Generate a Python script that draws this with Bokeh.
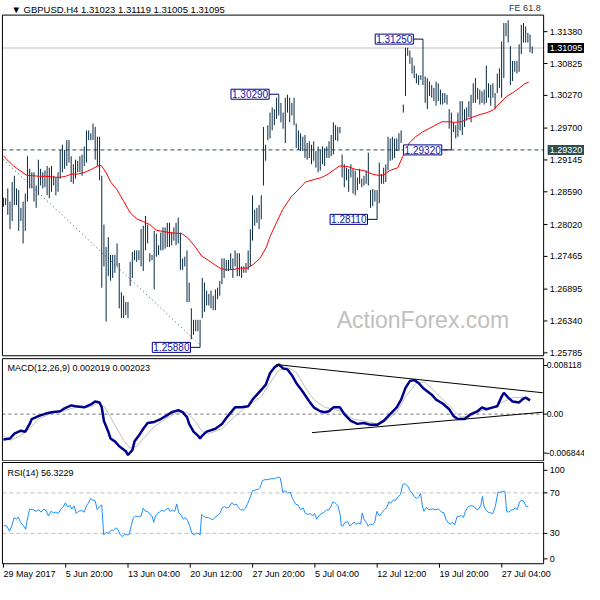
from bokeh.plotting import figure
from bokeh.models import Range1d, Label
from bokeh.layouts import column
from bokeh.embed import file_html
from bokeh.resources import INLINE

FONT = "Liberation Sans"
BAR_COLOR = "#082a44"
LABEL_BLUE = "#1414a0"

# ---------------- data (GBPUSD H4) ----------------
bar_high = [
    1.2849, 1.2848, 1.2865, 1.2842, 1.2876, 1.2887, 1.2865, 1.2862, 1.2831, 1.2842,
    1.2856, 1.2921, 1.2899, 1.2893, 1.2893, 1.2870, 1.2915, 1.2899, 1.2893, 1.2896,
    1.2904, 1.2901, 1.2904, 1.2887, 1.2884, 1.2893, 1.2932, 1.2941, 1.2932, 1.2949,
    1.2949, 1.2921, 1.2907, 1.2915, 1.2913, 1.2921, 1.2924, 1.2938, 1.2966, 1.2966,
    1.2961, 1.2978, 1.2972, 1.2955, 1.2955, 1.2887, 1.2802, 1.2763, 1.2780, 1.2749,
    1.2749, 1.2749, 1.2769, 1.2735, 1.2684, 1.2678, 1.2667, 1.2667, 1.2737, 1.2754,
    1.2757, 1.2757, 1.2757, 1.2794, 1.2800, 1.2817, 1.2802, 1.2752, 1.2749, 1.2791,
    1.2786, 1.2766, 1.2788, 1.2797, 1.2797, 1.2805, 1.2805, 1.2788, 1.2797, 1.2805,
    1.2814, 1.2788, 1.2743, 1.2746, 1.2757, 1.2701, 1.2656, 1.2636, 1.2636, 1.2636,
    1.2636, 1.2709, 1.2701, 1.2687, 1.2681, 1.2687, 1.2678, 1.2689, 1.2692, 1.2704,
    1.2743, 1.2743, 1.2740, 1.2740, 1.2752, 1.2743, 1.2757, 1.2752, 1.2752, 1.2729,
    1.2729, 1.2735, 1.2757, 1.2794, 1.2853, 1.2828, 1.2831, 1.2836, 1.2853, 1.2972,
    1.2941, 1.2975, 1.2997, 1.3006, 1.3003, 1.3023, 1.3029, 1.3014, 1.2997, 1.3023,
    1.3028, 1.3023, 1.3014, 1.3023, 1.2978, 1.2966, 1.2961, 1.2955, 1.2958, 1.2944,
    1.2947, 1.2941, 1.2947, 1.2930, 1.2938, 1.2932, 1.2938, 1.2935, 1.2938, 1.2947,
    1.2958, 1.2980, 1.2975, 1.2972, 1.2972, 1.2924, 1.2907, 1.2901, 1.2899, 1.2907,
    1.2899, 1.2896, 1.2884, 1.2899, 1.2882, 1.2887, 1.2896, 1.2927, 1.2862, 1.2864,
    1.2862, 1.2862, 1.2910, 1.2890, 1.2901, 1.2907, 1.2955, 1.2952, 1.2955, 1.2952,
    1.2952, 1.2961, 1.2966, 1.3011, 1.3110, 1.3110, 1.3105, 1.3093, 1.3079, 1.3065,
    1.3062, 1.3062, 1.3125, 1.3060, 1.3057, 1.3051, 1.3045, 1.3040, 1.3051, 1.3048,
    1.3037, 1.3031, 1.3031, 1.3028, 1.3003, 1.2997, 1.2980, 1.2975, 1.2997, 1.3017,
    1.3017, 1.3003, 1.3006, 1.3017, 1.3028, 1.3048, 1.3057, 1.3040, 1.3037, 1.3034,
    1.3037, 1.3079, 1.3048, 1.3045, 1.3048, 1.3031, 1.3065, 1.3074, 1.3121, 1.3153,
    1.3153, 1.3158, 1.3113, 1.3087, 1.3087, 1.3087, 1.3116, 1.3150, 1.3153, 1.3147,
    1.3136, 1.3133, 1.3112,
]
bar_low = [
    1.2833, 1.2836, 1.2819, 1.2794, 1.2808, 1.2836, 1.2836, 1.2791, 1.2808, 1.2769,
    1.2791, 1.2842, 1.2865, 1.2865, 1.2842, 1.2831, 1.2853, 1.2870, 1.2865, 1.2867,
    1.2853, 1.2848, 1.2859, 1.2870, 1.2853, 1.2859, 1.2882, 1.2893, 1.2899, 1.2904,
    1.2910, 1.2876, 1.2873, 1.2882, 1.2893, 1.2893, 1.2887, 1.2904, 1.2910, 1.2949,
    1.2949, 1.2949, 1.2915, 1.2904, 1.2879, 1.2692, 1.2729, 1.2633, 1.2712, 1.2704,
    1.2709, 1.2718, 1.2729, 1.2656, 1.2639, 1.2639, 1.2644, 1.2639, 1.2695, 1.2709,
    1.2740, 1.2737, 1.2740, 1.2729, 1.2721, 1.2757, 1.2769, 1.2737, 1.2740, 1.2689,
    1.2746, 1.2749, 1.2757, 1.2757, 1.2760, 1.2763, 1.2763, 1.2766, 1.2774, 1.2766,
    1.2769, 1.2723, 1.2723, 1.2729, 1.2667, 1.2667, 1.2602, 1.2610, 1.2616, 1.2616,
    1.2588, 1.2639, 1.2650, 1.2661, 1.2661, 1.2656, 1.2653, 1.2653, 1.2672, 1.2678,
    1.2698, 1.2709, 1.2721, 1.2721, 1.2723, 1.2709, 1.2729, 1.2712, 1.2712, 1.2709,
    1.2718, 1.2718, 1.2723, 1.2729, 1.2774, 1.2800, 1.2805, 1.2794, 1.2811, 1.2870,
    1.2913, 1.2949, 1.2952, 1.2966, 1.2975, 1.2986, 1.2992, 1.2980, 1.2969, 1.2944,
    1.2997, 1.2980, 1.2992, 1.2975, 1.2935, 1.2932, 1.2930, 1.2930, 1.2918, 1.2915,
    1.2918, 1.2907, 1.2913, 1.2901, 1.2893, 1.2896, 1.2907, 1.2904, 1.2918, 1.2918,
    1.2921, 1.2924, 1.2949, 1.2947, 1.2961, 1.2884, 1.2867, 1.2879, 1.2859, 1.2884,
    1.2856, 1.2853, 1.2862, 1.2873, 1.2867, 1.2870, 1.2873, 1.2870, 1.2831, 1.2834,
    1.2842, 1.2811, 1.2839, 1.2873, 1.2873, 1.2876, 1.2896, 1.2913, 1.2915, 1.2918,
    1.2930, 1.2930, 1.2944, 1.2997, 1.3026, 1.3096, 1.3082, 1.3065, 1.3057, 1.3048,
    1.3045, 1.3054, 1.3045, 1.3014, 1.3003, 1.3026, 1.3023, 1.3017, 1.3009, 1.3017,
    1.3011, 1.3011, 1.3014, 1.3011, 1.2969, 1.2932, 1.2963, 1.2952, 1.2955, 1.2966,
    1.2958, 1.2972, 1.2983, 1.2989, 1.2980, 1.3014, 1.3014, 1.3020, 1.3011, 1.3014,
    1.3011, 1.3014, 1.3023, 1.3009, 1.3023, 1.3003, 1.3031, 1.3040, 1.3023, 1.3057,
    1.3130, 1.3119, 1.3045, 1.3052, 1.3068, 1.3065, 1.3068, 1.3099, 1.3119, 1.3119,
    1.3119, 1.3102, 1.3100,
]

ma_points = [
    (0, 1.2922), (1.6, 1.2915), (4.6, 1.2904), (7.6, 1.2896), (10.5, 1.2888), (13.5, 1.2887),
    (16.5, 1.2886), (19.4, 1.2886), (22.4, 1.2885), (25.4, 1.2884), (28.4, 1.2886), (31.3, 1.2890),
    (34.3, 1.2890), (37.3, 1.2893), (40.2, 1.2898), (43.2, 1.2904), (44.7, 1.2905), (46.9, 1.2893),
    (49.1, 1.2876), (52.1, 1.2862), (55.1, 1.2842), (58.1, 1.2822), (61.0, 1.2812), (64.0, 1.2807),
    (67.0, 1.2802), (69.9, 1.2792), (72.9, 1.2790), (75.9, 1.2788), (78.8, 1.2787), (81.8, 1.2786),
    (84.8, 1.2777), (87.8, 1.2763), (90.7, 1.2747), (93.7, 1.2740), (96.7, 1.2732), (99.6, 1.2725),
    (102.6, 1.2723), (105.6, 1.2724), (108.5, 1.2726), (111.5, 1.2726), (114.5, 1.2733), (117.4, 1.2743),
    (120.4, 1.2763), (121.9, 1.2780), (124.9, 1.2805), (127.8, 1.2828), (131.6, 1.2850), (135.3, 1.2864),
    (138.2, 1.2876), (142.7, 1.2881), (145.7, 1.2884), (148.6, 1.2890), (151.6, 1.2898), (153.8, 1.2904),
    (157.5, 1.2903), (161.2, 1.2898), (165.0, 1.2896), (168.7, 1.2890), (170.9, 1.2888), (173.9, 1.2888),
    (176.8, 1.2896), (180.5, 1.2901), (182.8, 1.2921), (185.7, 1.2944), (188.7, 1.2955), (191.7, 1.2963),
    (194.7, 1.2969), (197.6, 1.2975), (200.6, 1.2981), (203.6, 1.2981), (206.5, 1.2980), (209.5, 1.2981),
    (212.5, 1.2986), (215.4, 1.2990), (218.4, 1.2994), (221.4, 1.2997), (224.3, 1.3002), (227.3, 1.3014),
    (230.3, 1.3025), (233.3, 1.3032), (236.2, 1.3040), (238.5, 1.3047), (240.4, 1.3050),
]

macd_points = [
    (0, -0.00371), (3, -0.00357), (5, -0.00285), (8, -0.00243), (10, -0.00257), (12, -0.00143),
    (13, -0.00072), (16, -0.00029), (20, 0.00014), (22, 0.00028), (26, 0.00042), (28, 0.00085),
    (31, 0.00128), (33, 0.00114), (37, 0.00099), (40, 0.00142), (42, 0.00185), (44, 0.00171),
    (45, 0.00099), (46, -0.00100), (48, -0.00257), (49, -0.00357), (51, -0.00399), (53, -0.00471),
    (56, -0.00542), (57, -0.00599), (59, -0.00528), (60, -0.00399), (62, -0.00314), (64, -0.00214),
    (66, -0.00129), (69, -0.00114), (72, -0.00072), (75, -0.00015), (77, 0.00028), (80, 0.00057),
    (82, 0.00028), (84, -0.00043), (85, -0.00143), (87, -0.00257), (89, -0.00314), (90, -0.00357),
    (91, -0.00314), (93, -0.00257), (97, -0.00214), (100, -0.00143), (102, -0.00057), (106, 0.00099),
    (109, 0.00099), (112, 0.00114), (114, 0.00213), (118, 0.00356), (120, 0.00427), (122, 0.00598),
    (124, 0.00684), (126, 0.00726), (128, 0.00669), (130, 0.00655), (132, 0.00570), (134, 0.00456),
    (137, 0.00327), (140, 0.00185), (142, 0.00099), (145, 0.00042), (147, 0.00028), (149, 0.00042),
    (151, 0.00099), (154, 0.00099), (156, 0.00000), (159, -0.00100), (162, -0.00143), (165, -0.00129),
    (168, -0.00157), (171, -0.00157), (174, -0.00100), (177, 0.00000), (180, 0.00099), (182, 0.00213),
    (184, 0.00384), (186, 0.00484), (188, 0.00498), (190, 0.00456), (192, 0.00384), (196, 0.00285),
    (198, 0.00213), (201, 0.00156), (204, 0.00071), (206, -0.00029), (208, -0.00072), (211, -0.00072),
    (214, 0.00000), (217, 0.00042), (219, 0.00099), (221, 0.00071), (224, 0.00099), (226, 0.00114),
    (228, 0.00256), (229, 0.00313), (231, 0.00242), (233, 0.00185), (236, 0.00171), (238, 0.00228),
    (239, 0.00242), (241, 0.00202),
]

signal_points = [
    (0, -0.00314), (3, -0.00385), (8, -0.00314), (12, -0.00214), (16, -0.00072), (21, 0.00000),
    (27, 0.00042), (33, 0.00099), (39, 0.00099), (43, 0.00156), (46, 0.00114), (49, -0.00043),
    (52, -0.00214), (55, -0.00385), (58, -0.00499), (61, -0.00471), (64, -0.00357), (69, -0.00186),
    (74, -0.00072), (80, 0.00028), (84, 0.00028), (88, -0.00114), (91, -0.00257), (94, -0.00285),
    (100, -0.00214), (106, -0.00029), (111, 0.00099), (118, 0.00256), (122, 0.00456), (126, 0.00641),
    (130, 0.00684), (134, 0.00612), (138, 0.00399), (142, 0.00213), (147, 0.00099), (151, 0.00071),
    (156, 0.00028), (160, -0.00072), (167, -0.00114), (171, -0.00143), (175, -0.00100), (180, 0.00028),
    (184, 0.00256), (189, 0.00456), (193, 0.00470), (198, 0.00313), (202, 0.00185), (207, 0.00028),
    (209, -0.00043), (214, -0.00029), (218, 0.00042), (224, 0.00099), (229, 0.00185), (233, 0.00242),
    (238, 0.00242), (241, 0.00202),
]

rsi_points = [
    (0.2, 37.8), (1.6, 37.1), (2.8, 32.1), (3.9, 37.8), (4.9, 45.6), (6.1, 44.0), (6.8, 46.2),
    (7.9, 40.9), (9.1, 37.8), (10.2, 34.0), (10.8, 42.5), (12.0, 54.0), (13.5, 53.4), (15.0, 51.8),
    (16.2, 53.4), (17.2, 50.9), (18.4, 54.0), (19.5, 52.8), (20.6, 47.1), (21.7, 51.8), (22.9, 50.3),
    (23.9, 50.9), (25.1, 49.6), (26.1, 53.4), (27.3, 55.9), (28.4, 60.3), (29.4, 55.9), (30.3, 58.1),
    (31.3, 54.0), (32.4, 57.2), (33.3, 49.6), (34.3, 51.8), (35.8, 52.8), (37.0, 50.9), (38.0, 57.2),
    (38.8, 59.7), (39.9, 64.3), (41.0, 62.8), (42.0, 62.1), (42.9, 53.4), (44.0, 56.5), (45.0, 58.1),
    (45.9, 28.4), (46.9, 30.9), (48.1, 30.0), (49.2, 33.1), (50.3, 33.1), (51.4, 35.3), (52.4, 34.0),
    (53.3, 29.3), (54.3, 26.8), (55.5, 29.0), (56.6, 28.4), (57.6, 29.0), (58.5, 37.8), (59.5, 45.6),
    (60.6, 47.1), (61.8, 46.5), (63.0, 47.1), (64.0, 55.0), (65.0, 51.8), (65.9, 51.8), (67.0, 48.7),
    (68.0, 47.1), (68.8, 40.9), (69.6, 47.1), (70.7, 50.3), (71.4, 50.9), (72.5, 52.8), (73.4, 51.8),
    (74.4, 53.4), (75.4, 55.0), (76.3, 51.8), (77.4, 52.8), (78.4, 51.8), (79.3, 59.0), (80.3, 50.3),
    (81.4, 47.8), (82.3, 44.0), (83.3, 45.6), (84.3, 42.5), (85.2, 37.8), (86.3, 30.0), (87.3, 28.4),
    (88.2, 30.0), (89.2, 30.0), (90.0, 28.4), (90.7, 48.7), (91.5, 47.1), (92.5, 45.6), (93.7, 45.6),
    (94.7, 44.6), (95.9, 43.4), (97.1, 46.5), (98.2, 47.8), (99.2, 50.3), (100.1, 55.0), (101.1, 56.5),
    (102.2, 55.0), (103.3, 55.9), (104.5, 60.3), (105.6, 58.1), (106.6, 59.0), (107.5, 55.9),
    (108.5, 53.4), (109.7, 52.8), (110.8, 55.0), (111.8, 59.7), (113.0, 65.9), (114.0, 72.2),
    (115.2, 72.8), (116.7, 73.7), (117.5, 75.3), (118.5, 82.1), (119.7, 83.1), (121.2, 83.1),
    (122.4, 84.0), (124.1, 84.0), (125.6, 85.6), (126.7, 84.7), (127.4, 76.8), (127.8, 70.6),
    (128.9, 72.2), (130.1, 69.7), (131.3, 70.6), (132.3, 64.3), (133.8, 58.7), (134.8, 58.1),
    (136.0, 53.4), (137.2, 55.0), (138.2, 49.6), (139.4, 48.7), (140.5, 49.6), (141.5, 47.1),
    (142.4, 49.6), (143.4, 44.0), (144.5, 47.8), (145.7, 49.6), (146.8, 50.9), (147.9, 53.4),
    (148.9, 52.8), (149.8, 56.5), (150.8, 61.2), (152.0, 59.7), (153.1, 57.2), (154.1, 48.7),
    (154.6, 37.8), (155.3, 37.1), (156.3, 40.9), (157.5, 41.5), (158.6, 37.1), (159.5, 39.3),
    (160.5, 40.9), (161.5, 39.3), (162.4, 40.3), (163.5, 39.3), (164.2, 50.3), (165.0, 44.0),
    (166.0, 40.9), (166.9, 37.1), (167.9, 39.3), (169.0, 38.4), (169.9, 40.9), (170.9, 51.8),
    (172.1, 47.1), (173.1, 50.3), (174.3, 53.4), (175.3, 55.0), (176.4, 61.2), (177.3, 59.7),
    (178.3, 62.8), (179.5, 62.8), (180.5, 65.9), (181.7, 68.4), (182.8, 78.4), (183.8, 79.0),
    (185.0, 76.8), (186.0, 72.2), (186.9, 70.6), (188.0, 66.5), (189.2, 64.3), (190.2, 66.5),
    (190.9, 69.7), (191.7, 57.2), (192.4, 51.8), (193.6, 55.6), (194.6, 53.4), (195.7, 54.0),
    (196.6, 54.0), (197.6, 53.4), (198.7, 54.0), (199.5, 53.4), (200.6, 50.9), (201.6, 50.3),
    (202.5, 44.0), (203.6, 40.3), (204.6, 39.3), (205.5, 40.9), (206.5, 38.4), (207.6, 46.5),
    (208.5, 46.5), (209.5, 47.8), (210.5, 45.6), (211.4, 51.8), (212.5, 55.9), (213.5, 57.2),
    (214.4, 57.2), (215.4, 56.5), (216.5, 53.4), (217.4, 54.0), (218.4, 57.2), (219.2, 66.5),
    (219.9, 57.2), (220.6, 53.4), (221.8, 50.9), (222.9, 50.3), (223.9, 49.6), (225.1, 56.5),
    (226.3, 70.6), (227.3, 70.6), (228.5, 71.5), (229.5, 71.5), (230.3, 51.8), (231.3, 50.9),
    (232.2, 52.8), (233.2, 53.4), (234.3, 55.0), (235.2, 53.4), (236.2, 61.2), (237.3, 62.8),
    (238.2, 61.2), (239.2, 56.5), (240.2, 56.3),
]

price_ticks = [1.31380, 1.30825, 1.30270, 1.29700, 1.29145, 1.28590, 1.28020,
               1.27465, 1.26895, 1.26340, 1.25785]
current_price = 1.31095
support_level = 1.29320

swing_idx = [126, 192, 205, 171, 90]
swing_price = [1.30290, 1.31250, 1.29320, 1.28110, 1.25880]

trend_x = [0, 90]
trend_y = [1.2915, 1.2592]
macd_upper_x = [124.7, 246.8]
macd_upper_y = [0.00726, 0.00313]
macd_lower_x = [141.2, 246.8]
macd_lower_y = [-0.00271, 0.00028]

price_window = (1.25734, 1.316682)
macd_window = (-0.006844, 0.008118)
rsi_window = (0, 100)
macd_tick_pos = [0.00712, 0.0, -0.0057]
macd_tick_labels = ["0.008118", "0.00", "-0.006844"]
rsi_tick_pos = [92.3, 70, 30, 4.8]
rsi_tick_labels = ["100", "70", "30", "0"]
rsi_levels = [70, 30]

time_tick_pos = [0, 28.51, 57.02, 85.52, 114.03, 142.54, 171.05, 199.55, 228.06]
time_labels = ["29 May 2017", "5 Jun 20:00", "13 Jun 04:00", "20 Jun 12:00", "27 Jun 20:00",
               "5 Jul 04:00", "12 Jul 12:00", "19 Jul 20:00", "27 Jul 04:00"]

header_text = "\u25bc GBPUSD.H4  1.31023 1.31119 1.31005 1.31095"
fe_text = "FE 61.8"
macd_title = "MACD(12,26,9) 0.002019 0.002023"
rsi_title = "RSI(14) 56.3229"
watermark = "ActionForex.com"

# ---------------- layout ----------------
bar_idx = list(range(len(bar_high)))
ma_x, ma_y = map(list, zip(*ma_points))
macd_x, macd_y = map(list, zip(*macd_points))
sig_x, sig_y = map(list, zip(*signal_points))
rsi_x, rsi_y = map(list, zip(*rsi_points))

W = 584
X0, X1 = -0.445, 247.22          # chart frame (bar units)
xr = Range1d(-1.336, 265.92)     # whole canvas width incl. price-scale area
TICK = 1.78                      # tick length in bar units


def make_fig(height, lo, hi):
    p = figure(width=W, height=height, x_range=xr, y_range=Range1d(lo, hi),
               output_backend="svg", toolbar_location=None,
               x_axis_location=None, y_axis_location=None, min_border=0,
               outline_line_color=None, background_fill_color="white",
               border_fill_color="white")
    p.grid.grid_line_color = None
    return p


def txt(p, x, y, text, dx=0, dy=0, align="left", size="9px", color="black", **kw):
    p.add_layout(Label(x=x, y=y, x_offset=dx, y_offset=dy, text=text, text_align=align,
                       text_baseline="middle", text_font=FONT, text_font_size=size,
                       text_color=color, **kw))


def frame(p, lo, hi):
    p.quad(left=[X0], right=[X1], bottom=[lo], top=[hi], fill_color=None,
           line_color="black", line_width=1)


def hline(p, y, **kw):
    p.segment(x0=[X0], y0=[y], x1=[X1], y1=[y], **kw)


def right_scale(p, ticks, labels, size="9px", dx=6):
    n = len(ticks)
    p.segment(x0=[X1] * n, y0=ticks, x1=[X1 + TICK] * n, y1=ticks, line_color="black")
    for t, lab in zip(ticks, labels):
        txt(p, X1, t, lab, dx=dx, size=size)


# ---- main price panel ----
p1 = make_fig(357, 1.257037, 1.319226)
hline(p1, current_price, line_color="#c0c0c0", line_width=1)
hline(p1, support_level, line_color="#2f4f4f", line_dash="4 3", line_width=1)
p1.line(trend_x, trend_y, line_color="#2f4f4f", line_dash="1 3", line_width=1)
p1.segment(x0=bar_idx, y0=bar_low, x1=bar_idx, y1=bar_high, line_color=BAR_COLOR, line_width=1)
p1.line(ma_x, ma_y, line_color="#ff0000", line_width=1)
txt(p1, 192, 1.2635, watermark, align="center", size="23px", color="#c0c0c0")
for bi, pr in zip(swing_idx, swing_price):
    p1.segment(x0=[bi - 4.4], y0=[pr], x1=[bi], y1=[pr], line_color="#000080", line_width=1)
    txt(p1, bi - 4.4, pr, f"{pr:.5f}", align="right", size="10px", color=LABEL_BLUE,
        background_fill_color="white", border_line_color="#000080", border_line_width=1, padding=1)
frame(p1, *price_window)
right_scale(p1, price_ticks, [f"{t:.5f}" for t in price_ticks])
txt(p1, X1, current_price, f"{current_price:.5f}", dx=4, color="white",
    background_fill_color="black", padding=2)
txt(p1, X1, support_level, f"{support_level:.5f}", dx=4, color="white",
    background_fill_color="#2f4f4f", padding=2)
txt(p1, X0, price_window[1], header_text, dx=9, dy=6, size="9.5px")
txt(p1, X1, price_window[1], fe_text, dx=-3, dy=7, align="right", color="#333333")

# ---- MACD panel ----
p2 = make_fig(104, -0.006937, 0.008289)
hline(p2, 0.0, line_color="#707070", line_dash="3 3", line_width=1)
p2.line(sig_x, sig_y, line_color="#c0c0c0", line_width=1)
p2.line(macd_x, macd_y, line_color="#00008b", line_width=2.5)
p2.line(macd_upper_x, macd_upper_y, line_color="black", line_width=1)
p2.line(macd_lower_x, macd_lower_y, line_color="black", line_width=1)
frame(p2, *macd_window)
right_scale(p2, macd_tick_pos, macd_tick_labels, size="8.5px", dx=3)
txt(p2, X0, macd_window[1], macd_title, dx=5, dy=-9)

# ---- RSI panel ----
p3 = make_fig(123, -20.52, 101.0)
for lvl in rsi_levels:
    hline(p3, lvl, line_color="#c0c0c0", line_dash="4 3", line_width=1)
p3.line(rsi_x, rsi_y, line_color="#1e90ff", line_width=1)
frame(p3, *rsi_window)
right_scale(p3, rsi_tick_pos, rsi_tick_labels)
txt(p3, X0, rsi_window[1], rsi_title, dx=5, dy=-10)
nt = len(time_tick_pos)
p3.segment(x0=time_tick_pos, y0=[0] * nt, x1=time_tick_pos, y1=[-3.85] * nt, line_color="black")
for pos, lab in zip(time_tick_pos, time_labels):
    txt(p3, pos, 0, lab, dy=-10)

layout = column(p1, p2, p3)
open("out.html", "w").write(file_html(layout, INLINE))
